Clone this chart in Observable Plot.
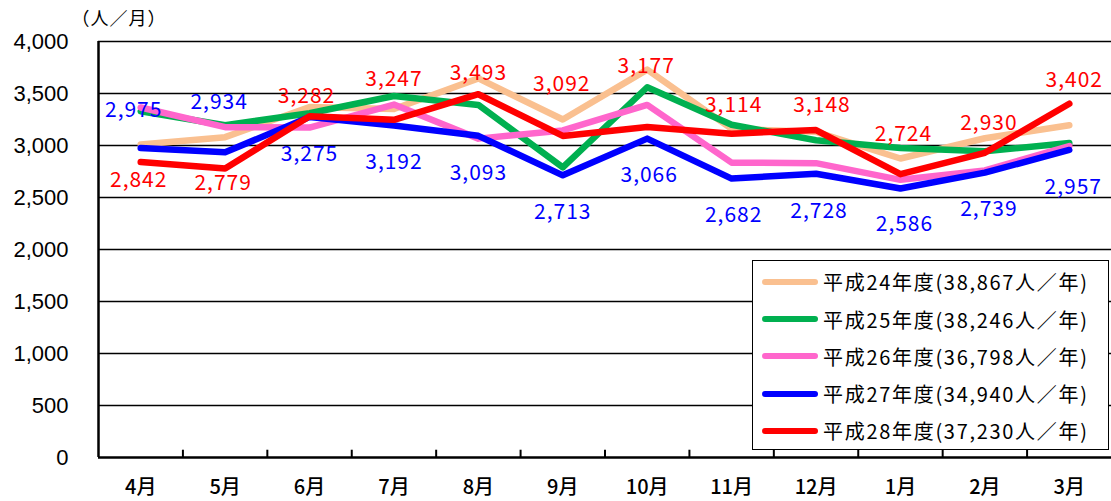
<!DOCTYPE html>
<html><head><meta charset="utf-8">
<script src="https://cdn.jsdelivr.net/npm/d3@7"></script>
<script src="https://cdn.jsdelivr.net/npm/@observablehq/plot@0.6"></script>
<style>
body{margin:0;background:#fff;}
#wrap{position:relative;width:1111px;height:501px;}
#legend{position:absolute;left:752px;top:260px;width:357px;height:190px;border:1.5px solid #000;background:#fff;box-sizing:border-box;font-family:"Noto Sans CJK JP",sans-serif;font-size:20px;color:#000;}
.row{position:absolute;left:0;height:24px;display:flex;align-items:center;white-space:nowrap;letter-spacing:1.7px}
.sw{width:56px;height:6px;border-radius:3px;margin-left:9px;margin-right:5px;flex:none}
</style></head><body><div id="wrap"><div id="legend"></div></div>
<script>
const months = ["4月","5月","6月","7月","8月","9月","10月","11月","12月","1月","2月","3月"];
const seriesNames = ["平成24年度","平成25年度","平成26年度","平成27年度","平成28年度"];
const annualTotals = ["38,867","38,246","36,798","34,940","37,230"];
const h24 = [3010, 3080, 3370, 3351, 3645, 3250, 3730, 3160, 3131, 2875, 3070, 3195];
const h25 = [3330, 3195, 3310, 3476, 3390, 2790, 3560, 3200, 3050, 2975, 2945, 3025];
const h26 = [3365, 3176, 3172, 3394, 3066, 3145, 3390, 2835, 2830, 2670, 2760, 2995];
const h27 = [2975, 2934, 3275, 3192, 3093, 2713, 3066, 2682, 2728, 2586, 2739, 2957];
const h28 = [2842, 2779, 3282, 3247, 3493, 3092, 3177, 3114, 3148, 2724, 2930, 3402];
const seriesValues = [h24, h25, h26, h27, h28];
const colors = ["#FAC090", "#00B050", "#FF66CC", "#0000FF", "#FF0000"];
const yTicks = [0, 500, 1000, 1500, 2000, 2500, 3000, 3500, 4000];
const unitLabel = "（人／月）";
// label placement (pixel offsets from the point)
const blueLabelDy = [-38, -50, 37, 37, 37, 37, 37, 37, 37, 36, 37, 37];
const blueLabelDx = [-7, -6, 0, 0, 0, 0, 2, 2, 3, 4, 4, 4];
const redLabelDy = [18, 15, -20, -41, -21, -52, -61, -28, -25, -40, -30, -23];
const redLabelDx = [-2, -2, -3, 0, 0, -1, -1, 2, 6, 3, 4, 5];

const rows = [];
seriesValues.forEach((vals, s) => vals.forEach((v, i) => rows.push({s, i, x: i + 0.5, v})));
const fmt = d3.format(",");

const labelMarks = (vals, dys, dxs, color) => vals.map((v, i) =>
  Plot.text([i], {x: i + 0.5, y: v, text: [fmt(v)], dy: dys[i], dx: dxs[i], fill: color,
    fontSize: 21, fontFamily: "Noto Sans CJK JP", lineAnchor: "middle", textAnchor: "middle"}));

const plot = Plot.plot({
  width: 1111, height: 501,
  marginLeft: 98, marginRight: 0, marginTop: 41, marginBottom: 44,
  style: {fontFamily: "Noto Sans CJK JP", background: "#fff", color: "#000"},
  x: {type: "linear", domain: [0, 12], axis: null, label: null},
  y: {domain: [0, 4000], axis: null, label: null},
  marks: [
    Plot.ruleY(yTicks.filter(d => d > 0), {stroke: "#000", strokeWidth: 1.6}),
    Plot.ruleX(d3.range(1, 12), {y1: 0, y2: 70, stroke: "#000", strokeWidth: 2}),
    Plot.ruleY([0], {stroke: "#000", strokeWidth: 2.5}),
    Plot.ruleX([0], {y1: 0, y2: 4000, stroke: "#000", strokeWidth: 2.5}),
    Plot.axisY({ticks: yTicks, tickFormat: fmt, tickSize: 0, tickPadding: 30, fontSize: 22,
      fontFamily: "Liberation Sans", textAnchor: "end", label: null}),
    Plot.axisX({ticks: months.map((m, i) => i + 0.5), tickFormat: d => months[Math.floor(d)],
      tickSize: 0, tickPadding: 22, fontSize: 20, fontFamily: "Noto Sans CJK JP", fontWeight: 500, label: null}),
    Plot.text([unitLabel], {frameAnchor: "top-left", dx: -27, dy: -22, textAnchor: "start",
      lineAnchor: "middle", fontSize: 18, fill: "#000"}),
    ...seriesValues.map((vals, s) => Plot.line(rows.filter(r => r.s === s), {
      x: "x", y: "v", stroke: colors[s], strokeWidth: 6.5, strokeLinejoin: "round", strokeLinecap: "round"})),
    ...labelMarks(h27, blueLabelDy, blueLabelDx, colors[3]),
    ...labelMarks(h28, redLabelDy, redLabelDx, colors[4])
  ]
});
d3.select(plot).selectAll("g[aria-label=text] text").style("letter-spacing", "1px");
document.getElementById("wrap").prepend(plot);

const legend = document.getElementById("legend");
seriesNames.forEach((name, s) => {
  const row = document.createElement("div");
  row.className = "row";
  row.style.top = (8.7 + s * 37.3) + "px";
  const sw = document.createElement("span");
  sw.className = "sw";
  sw.style.background = colors[s];
  const t = document.createElement("span");
  t.textContent = `${name}(${annualTotals[s]}人／年)`;
  row.append(sw, t);
  legend.append(row);
});
</script></body></html>
